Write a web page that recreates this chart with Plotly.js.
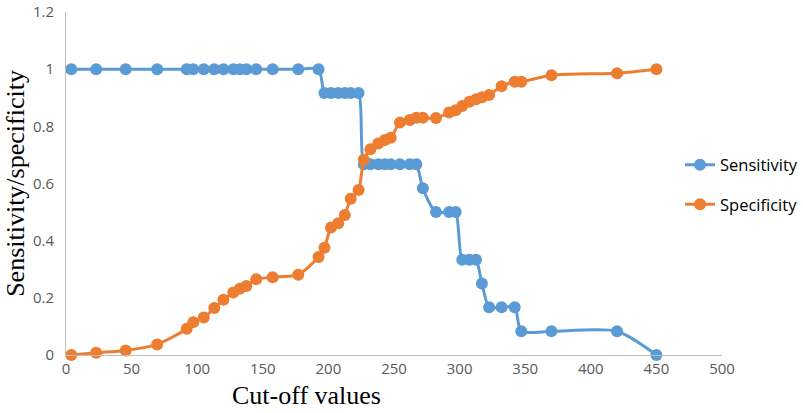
<!DOCTYPE html>
<html>
<head>
<meta charset="utf-8">
<script src="https://cdn.plot.ly/plotly-3.0.1.min.js"></script>
<style>
  html, body { margin: 0; padding: 0; background: #fff; }
  #cutoffChart { width: 803px; height: 413px; }
</style>
</head>
<body>
<div id="cutoffChart"></div>
<script>
// cut-off values shared by both curves
const cutoffs = [
    4, 23, 45.5, 69.5, 92, 97, 105, 113, 120, 127.5, 132.5, 137.5, 145, 157.5, 177,
    192.5, 197, 202, 207.5, 212.5, 217, 223, 227, 232, 238, 243, 247.5, 254.5, 262, 267,
    272, 282, 292, 297, 302, 307.5, 312.5, 317, 322.5, 332, 342, 347, 370, 420, 450
];

const sensitivity = [
    1, 1, 1, 1, 1, 1, 1, 1, 1, 1, 1, 1, 1, 1, 1,
    1, 0.917, 0.917, 0.917, 0.917, 0.917, 0.917, 0.667, 0.667, 0.667, 0.667, 0.667, 0.667, 0.667, 0.667,
    0.583, 0.5, 0.5, 0.5, 0.333, 0.333, 0.333, 0.25, 0.167, 0.167, 0.167, 0.083, 0.083, 0.083, 0
];

const specificity = [
    0, 0.008, 0.016, 0.037, 0.092, 0.115, 0.131, 0.164, 0.193, 0.219, 0.232, 0.241, 0.265, 0.272, 0.281,
    0.343, 0.375, 0.446, 0.461, 0.49, 0.547, 0.577, 0.683, 0.72, 0.74, 0.752, 0.76, 0.813, 0.822, 0.83,
    0.83, 0.829, 0.848, 0.856, 0.871, 0.886, 0.895, 0.902, 0.91, 0.94, 0.956, 0.956, 0.979, 0.986, 1.0
];

const xTicks = [0, 50, 100, 150, 200, 250, 300, 350, 400, 450, 500];
const yTicks = [0, 0.2, 0.4, 0.6, 0.8, 1, 1.2];

const seriesColours = { Sensitivity: "#5B9BD5", Specificity: "#ED7D31" };
const tickFont = { family: "Open Sans, sans-serif", size: 15, color: "#595959" };
const titleFont = { family: "Liberation Serif, Times New Roman, serif", size: 26, color: "#000" };

function makeTrace(name, values) {
    return {
        x: cutoffs,
        y: values,
        name: name,
        legendgroup: name,
        type: "scatter",
        mode: "lines+markers",
        line: { color: seriesColours[name], width: 3, shape: "spline", smoothing: 0.7 },
        marker: { color: seriesColours[name], size: 12 },
        cliponaxis: false
    };
}

const data = [
    makeTrace("Sensitivity", sensitivity),
    makeTrace("Specificity", specificity)
];

const layout = {
    width: 803,
    height: 413,
    margin: { l: 66, r: 81, t: 12, b: 58, autoexpand: false },
    paper_bgcolor: "#fff",
    plot_bgcolor: "#fff",
    showlegend: true,
    xaxis: {
        range: [0, 500],
        tickvals: xTicks,
        ticktext: xTicks.map(String),
        showgrid: false,
        zeroline: false,
        showline: true,
        linecolor: "#bfbfbf",
        linewidth: 1,
        ticks: "",
        tickfont: tickFont,
        automargin: false
    },
    yaxis: {
        range: [0, 1.2],
        tickvals: yTicks,
        ticktext: yTicks.map(String),
        showgrid: false,
        zeroline: false,
        showline: true,
        linecolor: "#bfbfbf",
        linewidth: 1,
        ticks: "",
        ticklabelstandoff: 8,
        ticklabeloverflow: "allow",
        tickfont: tickFont,
        automargin: false,
        title: { text: "Sensitivity/specificity", font: titleFont, standoff: 0 }
    },
    // x title sits left of the plot centre in the original, so it is an annotation
    annotations: [{
        text: "Cut-off values",
        xref: "paper", yref: "paper",
        x: 0.367, y: -0.117,
        xanchor: "center", yanchor: "middle",
        showarrow: false,
        font: titleFont
    }],
    legend: {
        x: 0.936,
        xanchor: "left",
        y: 0.605,
        yanchor: "top",
        bgcolor: "rgba(0,0,0,0)",
        font: { family: "Open Sans, sans-serif", size: 16.5, color: "#000" },
        tracegroupgap: 15,
        itemwidth: 30
    },
    font: { family: "Open Sans, sans-serif" }
};

Plotly.newPlot("cutoffChart", data, layout, { displayModeBar: false, staticPlot: true });
</script>
</body>
</html>
